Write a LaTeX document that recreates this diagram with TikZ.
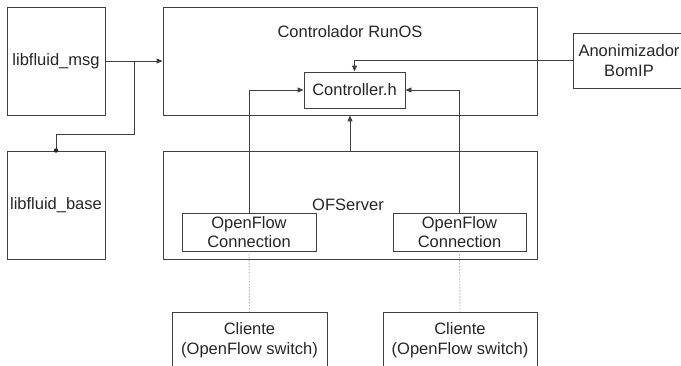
\documentclass[tikz,border=0pt]{standalone}
\usepackage{fontspec}
\setmainfont{Liberation Sans}
\usetikzlibrary{arrows.meta}

\begin{document}
\begin{tikzpicture}[x=1pt,y=-1pt]
  \tikzstyle{every node}=[font=\fontsize{16.5}{19.5}\selectfont, text=black!85, align=center, inner sep=0pt];
  \tikzstyle{box}=[draw=black!75, line width=0.9pt, rectangle];
  \tikzstyle{link}=[draw=black!75, line width=0.9pt, -{Triangle[length=6pt,width=5pt]}];
  \tikzstyle{plain}=[draw=black!75, line width=0.9pt];
  \tikzstyle{wire}=[draw=black!45, line width=0.9pt, dash pattern=on 1pt off 2pt];
  \useasboundingbox[fill=white] (0,0) rectangle (681,366);
  % libraries
  \node[box, minimum width=98, minimum height=108] (msg) at (56,61) {libfluid\_msg};
  \node[box, minimum width=98, minimum height=108] (base) at (56,205) {libfluid\_base};
  % controller
  \node[box, minimum width=374, minimum height=108] (runos) at (350,61) {};
  \node (runoslbl) at (350,32) {Controlador RunOS};
  \node[box, minimum width=101, minimum height=36] (ctrl) at (354.5,90) {Controller.h};
  \node[box, minimum width=112, minimum height=55] (anon) at (629,60.5) {Anonimizador\\BomIP};
  % server
  \node[box, minimum width=374, minimum height=108] (ofs) at (350,205) {};
  \node (ofslbl) at (348,205) {OFServer};
  \node[box, minimum width=134, minimum height=38] (ofc1) at (249,232) {OpenFlow\\Connection};
  \node[box, minimum width=133, minimum height=38] (ofc2) at (459.5,232) {OpenFlow\\Connection};
  % clients
  \node[box, minimum width=155, minimum height=56] (cli1) at (249.5,340) {Cliente\\(OpenFlow switch)};
  \node[box, minimum width=154, minimum height=56] (cli2) at (460,340) {Cliente\\(OpenFlow switch)};

  \draw[link] (msg.east) -- (runos.west);
  \coordinate (j) at (134,61);
  \draw[plain] (j) -- ++(0,73) -| (base.north);
  \fill[black!85] (base.north) circle (2.2pt);
  \draw[link] (anon.west) -| (ctrl.north);
  \draw[link] (ofc1.north) |- (ctrl.west);
  \draw[link] (ofc2.north) |- (ctrl.east);
  \draw[link] (ofs.north) -- (runos.south);
  \draw[wire] (ofc1.south) -- (cli1.north);
  \draw[wire] (ofc2.south) -- (cli2.north);
\end{tikzpicture}
\end{document}
